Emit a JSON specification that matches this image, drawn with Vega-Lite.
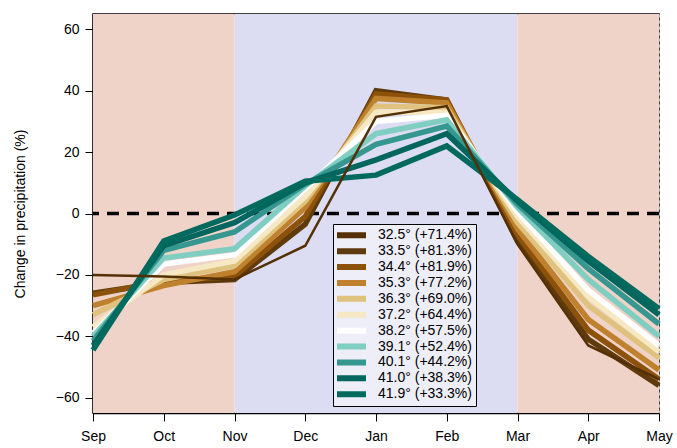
{
  "$schema": "https://vega.github.io/schema/vega-lite/v6.json",
  "width": 566,
  "height": 399,
  "autosize": "none",
  "padding": {"left": 93, "top": 14, "right": 18, "bottom": 35},
  "config": {
    "font": "Liberation Sans",
    "view": {"stroke": "black", "strokeWidth": 1.5},
    "axis": {
      "labelFont": "Liberation Sans",
      "titleFont": "Liberation Sans",
      "labelFontSize": 14,
      "titleFontSize": 14,
      "titleFontWeight": "normal",
      "labelColor": "black",
      "titleColor": "black",
      "domainColor": "black",
      "domainWidth": 1.5,
      "tickColor": "black",
      "tickWidth": 1,
      "tickSize": 8,
      "grid": true,
      "gridColor": "#bdbdbd",
      "gridDash": [3, 3],
      "gridWidth": 1,
      "zindex": 1
    }
  },
  "datasets": {
    "bg": [
      {"month": 0, "month_end": 2, "period": "autumn"},
      {"month": 2, "month_end": 6, "period": "winter"},
      {"month": 6, "month_end": 8, "period": "spring"}
    ],
    "lines": [
      {"series": "33.5° (+81.3%)", "month": 0, "change": -26},
      {"series": "33.5° (+81.3%)", "month": 1, "change": -22.5},
      {"series": "33.5° (+81.3%)", "month": 2, "change": -21.5},
      {"series": "33.5° (+81.3%)", "month": 3, "change": -3.5},
      {"series": "33.5° (+81.3%)", "month": 4, "change": 40},
      {"series": "33.5° (+81.3%)", "month": 5, "change": 37},
      {"series": "33.5° (+81.3%)", "month": 6, "change": -9},
      {"series": "33.5° (+81.3%)", "month": 7, "change": -41},
      {"series": "33.5° (+81.3%)", "month": 8, "change": -56},
      {"series": "34.4° (+81.9%)", "month": 0, "change": -26.5},
      {"series": "34.4° (+81.9%)", "month": 1, "change": -22},
      {"series": "34.4° (+81.9%)", "month": 2, "change": -20.5},
      {"series": "34.4° (+81.9%)", "month": 3, "change": -1},
      {"series": "34.4° (+81.9%)", "month": 4, "change": 39},
      {"series": "34.4° (+81.9%)", "month": 5, "change": 37},
      {"series": "34.4° (+81.9%)", "month": 6, "change": -7},
      {"series": "34.4° (+81.9%)", "month": 7, "change": -38},
      {"series": "34.4° (+81.9%)", "month": 8, "change": -54},
      {"series": "35.3° (+77.2%)", "month": 0, "change": -30},
      {"series": "35.3° (+77.2%)", "month": 1, "change": -23.5},
      {"series": "35.3° (+77.2%)", "month": 2, "change": -19},
      {"series": "35.3° (+77.2%)", "month": 3, "change": 2},
      {"series": "35.3° (+77.2%)", "month": 4, "change": 37.5},
      {"series": "35.3° (+77.2%)", "month": 5, "change": 36},
      {"series": "35.3° (+77.2%)", "month": 6, "change": -5},
      {"series": "35.3° (+77.2%)", "month": 7, "change": -34.5},
      {"series": "35.3° (+77.2%)", "month": 8, "change": -51},
      {"series": "36.3° (+69.0%)", "month": 0, "change": -33},
      {"series": "36.3° (+69.0%)", "month": 1, "change": -21.5},
      {"series": "36.3° (+69.0%)", "month": 2, "change": -17},
      {"series": "36.3° (+69.0%)", "month": 3, "change": 4},
      {"series": "36.3° (+69.0%)", "month": 4, "change": 35},
      {"series": "36.3° (+69.0%)", "month": 5, "change": 34.5},
      {"series": "36.3° (+69.0%)", "month": 6, "change": -3},
      {"series": "36.3° (+69.0%)", "month": 7, "change": -30},
      {"series": "36.3° (+69.0%)", "month": 8, "change": -47},
      {"series": "37.2° (+64.4%)", "month": 0, "change": -37},
      {"series": "37.2° (+64.4%)", "month": 1, "change": -20},
      {"series": "37.2° (+64.4%)", "month": 2, "change": -15.5},
      {"series": "37.2° (+64.4%)", "month": 3, "change": 5.5},
      {"series": "37.2° (+64.4%)", "month": 4, "change": 33},
      {"series": "37.2° (+64.4%)", "month": 5, "change": 33},
      {"series": "37.2° (+64.4%)", "month": 6, "change": -1},
      {"series": "37.2° (+64.4%)", "month": 7, "change": -27},
      {"series": "37.2° (+64.4%)", "month": 8, "change": -45},
      {"series": "38.2° (+57.5%)", "month": 0, "change": -39},
      {"series": "38.2° (+57.5%)", "month": 1, "change": -16.5},
      {"series": "38.2° (+57.5%)", "month": 2, "change": -13.5},
      {"series": "38.2° (+57.5%)", "month": 3, "change": 8},
      {"series": "38.2° (+57.5%)", "month": 4, "change": 30},
      {"series": "38.2° (+57.5%)", "month": 5, "change": 32},
      {"series": "38.2° (+57.5%)", "month": 6, "change": 0.5},
      {"series": "38.2° (+57.5%)", "month": 7, "change": -25},
      {"series": "38.2° (+57.5%)", "month": 8, "change": -43},
      {"series": "39.1° (+52.4%)", "month": 0, "change": -40},
      {"series": "39.1° (+52.4%)", "month": 1, "change": -14.5},
      {"series": "39.1° (+52.4%)", "month": 2, "change": -11.5},
      {"series": "39.1° (+52.4%)", "month": 3, "change": 9},
      {"series": "39.1° (+52.4%)", "month": 4, "change": 26},
      {"series": "39.1° (+52.4%)", "month": 5, "change": 30.5},
      {"series": "39.1° (+52.4%)", "month": 6, "change": 2},
      {"series": "39.1° (+52.4%)", "month": 7, "change": -21.5},
      {"series": "39.1° (+52.4%)", "month": 8, "change": -40},
      {"series": "40.1° (+44.2%)", "month": 0, "change": -41.5},
      {"series": "40.1° (+44.2%)", "month": 1, "change": -12},
      {"series": "40.1° (+44.2%)", "month": 2, "change": -6},
      {"series": "40.1° (+44.2%)", "month": 3, "change": 9.5},
      {"series": "40.1° (+44.2%)", "month": 4, "change": 22.5},
      {"series": "40.1° (+44.2%)", "month": 5, "change": 28.5},
      {"series": "40.1° (+44.2%)", "month": 6, "change": 3},
      {"series": "40.1° (+44.2%)", "month": 7, "change": -18},
      {"series": "40.1° (+44.2%)", "month": 8, "change": -36},
      {"series": "41.0° (+38.3%)", "month": 0, "change": -43},
      {"series": "41.0° (+38.3%)", "month": 1, "change": -10.5},
      {"series": "41.0° (+38.3%)", "month": 2, "change": -3},
      {"series": "41.0° (+38.3%)", "month": 3, "change": 10},
      {"series": "41.0° (+38.3%)", "month": 4, "change": 17.5},
      {"series": "41.0° (+38.3%)", "month": 5, "change": 26},
      {"series": "41.0° (+38.3%)", "month": 6, "change": 4},
      {"series": "41.0° (+38.3%)", "month": 7, "change": -15.5},
      {"series": "41.0° (+38.3%)", "month": 8, "change": -33},
      {"series": "41.9° (+33.3%)", "month": 0, "change": -44.5},
      {"series": "41.9° (+33.3%)", "month": 1, "change": -9},
      {"series": "41.9° (+33.3%)", "month": 2, "change": -0.5},
      {"series": "41.9° (+33.3%)", "month": 3, "change": 10.5},
      {"series": "41.9° (+33.3%)", "month": 4, "change": 12.5},
      {"series": "41.9° (+33.3%)", "month": 5, "change": 22},
      {"series": "41.9° (+33.3%)", "month": 6, "change": 4.5},
      {"series": "41.9° (+33.3%)", "month": 7, "change": -14},
      {"series": "41.9° (+33.3%)", "month": 8, "change": -31},
      {"series": "32.5° (+71.4%)", "month": 0, "change": -20},
      {"series": "32.5° (+71.4%)", "month": 1, "change": -20.5},
      {"series": "32.5° (+71.4%)", "month": 2, "change": -21.5},
      {"series": "32.5° (+71.4%)", "month": 3, "change": -10.5},
      {"series": "32.5° (+71.4%)", "month": 4, "change": 31.5},
      {"series": "32.5° (+71.4%)", "month": 5, "change": 35},
      {"series": "32.5° (+71.4%)", "month": 6, "change": -10},
      {"series": "32.5° (+71.4%)", "month": 7, "change": -43},
      {"series": "32.5° (+71.4%)", "month": 8, "change": -54}
    ]
  },
  "layer": [
    {
      "data": {"name": "bg"},
      "mark": {"type": "rect"},
      "encoding": {
        "x": {"field": "month", "type": "quantitative", "scale": {"domain": [0, 8], "nice": false, "zero": false}},
        "x2": {"field": "month_end"},
        "fill": {
          "field": "period", "type": "nominal", "legend": null,
          "scale": {"domain": ["autumn", "winter", "spring"], "range": ["#efd2c8", "#dcdcf2", "#efd2c8"]}
        }
      }
    },
    {
      "data": {"values": [{"change": 0}]},
      "mark": {"type": "rule", "color": "black", "strokeWidth": 3.5, "strokeDash": [12, 8]},
      "encoding": {
        "y": {"field": "change", "type": "quantitative"}
      }
    },
    {
      "data": {"name": "lines"},
      "transform": [{"filter": "datum.series != '32.5° (+71.4%)'"}],
      "mark": {"type": "line", "strokeWidth": 5.5, "strokeJoin": "miter", "strokeCap": "butt"},
      "encoding": {
        "x": {
          "field": "month", "type": "quantitative",
          "scale": {"domain": [0, 8], "nice": false, "zero": false},
          "axis": {
            "title": null,
            "values": [0, 1, 2, 3, 4, 5, 6, 7, 8],
            "labelExpr": "['Sep','Oct','Nov','Dec','Jan','Feb','Mar','Apr','May'][datum.value]",
            "labelPadding": 8,
            "labelFlush": false
          }
        },
        "y": {
          "field": "change", "type": "quantitative",
          "scale": {"domain": [-65, 65], "nice": false, "zero": false},
          "axis": {
            "title": "Change in precipitation (%)",
            "values": [-60, -40, -20, 0, 20, 40, 60],
            "labelPadding": 6,
            "titlePadding": 28
          }
        },
        "color": {
          "field": "series", "type": "nominal",
          "scale": {
            "domain": ["32.5° (+71.4%)", "33.5° (+81.3%)", "34.4° (+81.9%)", "35.3° (+77.2%)", "36.3° (+69.0%)", "37.2° (+64.4%)", "38.2° (+57.5%)", "39.1° (+52.4%)", "40.1° (+44.2%)", "41.0° (+38.3%)", "41.9° (+33.3%)"],
            "range": ["#543005", "#5e3a0c", "#8c510a", "#bf812d", "#dfc27d", "#f6e8c3", "#ffffff", "#80cdc1", "#35978f", "#01665e", "#006a5e"]
          },
          "legend": {
            "title": null,
            "orient": "none",
            "legendX": 240,
            "legendY": 210,
            "symbolType": "M-8,0H22",
            "symbolSize": 4,
            "symbolStrokeWidth": 6,
            "labelFont": "Liberation Sans",
            "labelFontSize": 14,
            "labelColor": "black",
            "labelOffset": 27,
            "clipHeight": 14.5,
            "rowPadding": 0.9,
            "padding": 4,
            "strokeColor": "black",
            "fillColor": "rgba(255,255,255,0.5)",
            "symbolOpacity": 1
          }
        }
      }
    },
    {
      "data": {"name": "lines"},
      "transform": [{"filter": "datum.series == '32.5° (+71.4%)'"}],
      "mark": {"type": "line", "strokeWidth": 2.5, "strokeJoin": "miter"},
      "encoding": {
        "x": {"field": "month", "type": "quantitative"},
        "y": {"field": "change", "type": "quantitative"},
        "color": {"field": "series", "type": "nominal"}
      }
    }
  ]
}
